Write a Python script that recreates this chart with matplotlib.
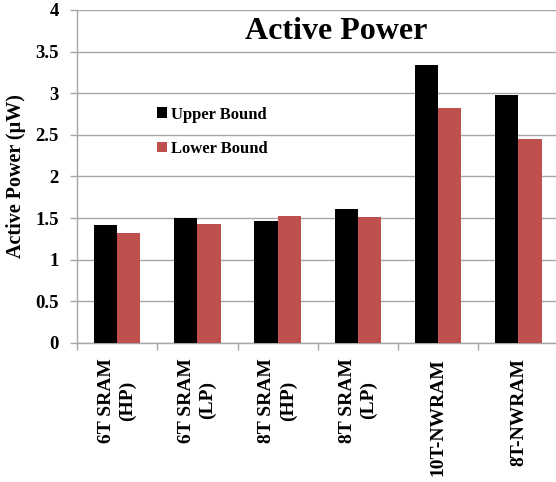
import matplotlib
matplotlib.use("Agg")
import matplotlib.pyplot as plt
import numpy as np

categories = ["6T SRAM\n(HP)", "6T SRAM\n(LP)", "8T SRAM\n(HP)", "8T SRAM\n(LP)", "10T-NWRAM", "8T-NWRAM"]
upper_bound = [1.42, 1.50, 1.47, 1.61, 3.34, 2.98]
lower_bound = [1.32, 1.43, 1.53, 1.51, 2.82, 2.45]
y_ticks = [0, 0.5, 1, 1.5, 2, 2.5, 3, 3.5, 4]
y_tick_labels = ["0", "0.5", "1", "1.5", "2", "2.5", "3", "3.5", "4"]

serif = ["Liberation Serif", "DejaVu Serif"]
plt.rcParams["font.family"] = serif

fig = plt.figure(figsize=(5.56, 4.82), dpi=100)
ax = fig.add_axes([0.1385, 0.2884, 0.866, 0.6909])

x = np.arange(len(categories))
w = 0.29
ax.bar(x - w / 2, upper_bound, w, color="#000000", label="Upper Bound", zorder=3)
ax.bar(x + w / 2, lower_bound, w, color="#C0504D", label="Lower Bound", zorder=3)

ax.set_xlim(-0.5, len(categories) - 0.5)
ax.set_ylim(0, 4)
ax.set_yticks(y_ticks)
ax.set_yticklabels(y_tick_labels, fontsize=13.5, fontweight="bold")
ax.yaxis.grid(True, color="#A6A6A6", linewidth=1.0, zorder=0)
ax.set_axisbelow(True)

ax.set_xticks(np.arange(len(categories) + 1) - 0.5, minor=False)
ax.set_xticklabels([])
ax.tick_params(axis="x", direction="out", length=5, color="#A6A6A6", width=1)
ax.tick_params(axis="y", direction="out", length=5, color="#A6A6A6", width=1, pad=8)
for i, lab in enumerate(categories):
    ax.text(i, -0.18, lab, rotation=90, ha="center", va="top", fontsize=14,
            fontweight="bold", multialignment="center", linespacing=1.3,
            transform=ax.transData)

for s in ["top", "right"]:
    ax.spines[s].set_visible(False)
ax.spines["left"].set_color("#A6A6A6")
ax.spines["bottom"].set_color("#A6A6A6")
ax.spines["left"].set_linewidth(1)
ax.spines["bottom"].set_linewidth(1)

ax.set_ylabel("Active Power (μW)", fontsize=14.5, fontweight="bold", labelpad=7)

ax.text(0.538, 0.934, "Active Power", transform=ax.transAxes, ha="center", va="center",
        fontsize=23, fontweight="bold")

leg = ax.legend(loc="upper left", bbox_to_anchor=(0.135, 0.755), frameon=False,
                prop={"family": serif, "weight": "bold", "size": 12},
                handlelength=0.6, handleheight=0.6, handletextpad=0.25, labelspacing=1.1)

fig.savefig("out.png", dpi=100)
